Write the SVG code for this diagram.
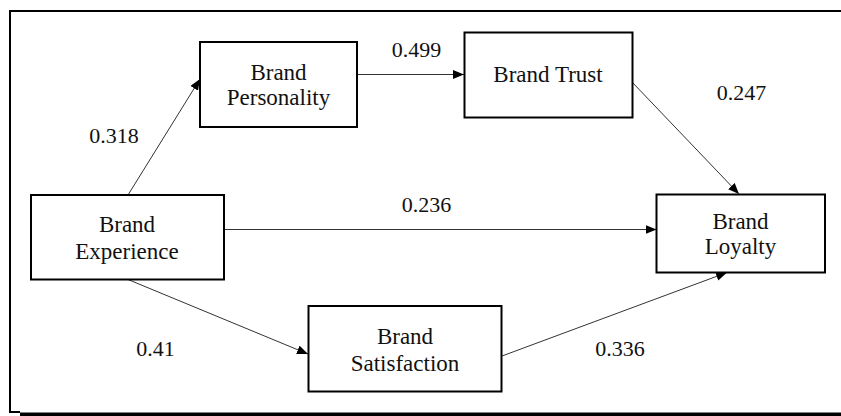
<svg xmlns="http://www.w3.org/2000/svg" width="841" height="416" viewBox="0 0 841 416">
<style>
.box{fill:#fff;stroke:#000;stroke-width:2}
text{font-family:'Liberation Serif',Tinos,'Noto Serif','Nimbus Roman','FreeSerif','DejaVu Serif','Times New Roman',Times,serif;fill:#111;text-anchor:middle}
.lbl{font-size:23px}
.num{font-size:22px}
.edge{stroke:#333;stroke-width:1;fill:none;marker-end:url(#arr)}
</style>
<defs>
<marker id="arr" markerUnits="userSpaceOnUse" markerWidth="12" markerHeight="10" refX="11" refY="4.5" orient="auto">
<path d="M0,0 L11,4.5 L0,9 z" fill="#000"/>
</marker>
</defs>
<rect width="841" height="416" fill="#fff"/>
<g id="frame">
<line x1="10" y1="11" x2="841" y2="11" stroke="#000" stroke-width="2"/>
<line x1="10" y1="10" x2="10" y2="413" stroke="#000" stroke-width="2"/>
<line x1="9" y1="412" x2="20" y2="412" stroke="#000" stroke-width="2"/>
<rect x="20" y="412.5" width="821" height="3.5" fill="#000"/>
</g>
<g id="connectors">
<line class="edge" x1="128" y1="195" x2="200" y2="79"/>
<line class="edge" x1="357" y1="74.5" x2="464" y2="74.5"/>
<line class="edge" x1="632" y1="82" x2="739" y2="194"/>
<line class="edge" x1="224" y1="229.5" x2="656.5" y2="229.5"/>
<line class="edge" x1="128" y1="279.5" x2="308" y2="354"/>
<line class="edge" x1="502" y1="356" x2="727" y2="272.5"/>
</g>
<g id="brand-personality">
<rect class="box" x="200" y="42" width="157" height="85"/>
<text class="lbl" x="278.5" y="80">Brand</text>
<text class="lbl" x="278.5" y="105">Personality</text>
</g>
<g id="brand-trust">
<rect class="box" x="464.5" y="32.5" width="168" height="85"/>
<text class="lbl" x="548" y="82">Brand Trust</text>
</g>
<g id="brand-experience">
<rect class="box" x="31" y="195" width="193" height="84.5"/>
<text class="lbl" x="127" y="232">Brand</text>
<text class="lbl" x="127" y="259">Experience</text>
</g>
<g id="brand-loyalty">
<rect class="box" x="656.5" y="194.5" width="168.5" height="78"/>
<text class="lbl" x="740.5" y="228.5">Brand</text>
<text class="lbl" x="740.5" y="254">Loyalty</text>
</g>
<g id="brand-satisfaction">
<rect class="box" x="308.5" y="306" width="193" height="85.5"/>
<text class="lbl" x="405" y="344">Brand</text>
<text class="lbl" x="405" y="371">Satisfaction</text>
</g>
<g id="labels">
<text class="num" x="114" y="143">0.318</text>
<text class="num" x="416.5" y="57">0.499</text>
<text class="num" x="741.5" y="100">0.247</text>
<text class="num" x="426.5" y="212">0.236</text>
<text class="num" x="155.5" y="356">0.41</text>
<text class="num" x="620" y="356">0.336</text>
</g>
</svg>
